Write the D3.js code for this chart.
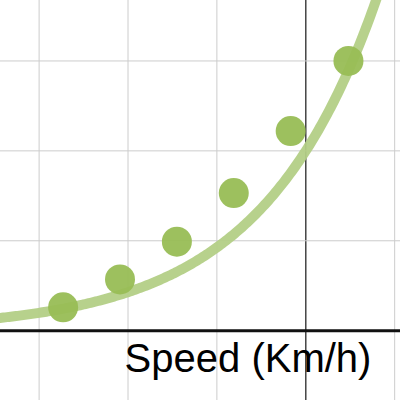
<!DOCTYPE html>
<html><head><meta charset="utf-8">
<script src="https://cdn.jsdelivr.net/npm/d3@7"></script>
<style>body{margin:0;background:#fff}</style></head>
<body><svg id="c" width="400" height="400"></svg>
<script>
// observed points
var speedX = [-2.73, -2.09, -1.45, -0.81, -0.17, 0.48];
var valueY = [0.26, 0.57, 0.99, 1.53, 2.22, 3.0];
// fitted curve y = a * exp(b x)
var fitA = 2.0, fitB = 0.77;
var gridX = [-3, -2, -1, 0, 1];
var gridY = [1, 2, 3];

var svg = d3.select('#c');
var x = d3.scaleLinear().domain([-3.44, 1.06]).range([0, 400]);
var y = d3.scaleLinear().domain([-0.771, 3.678]).range([400, 0]);

svg.selectAll('.gx').data(gridX).enter().append('line')
    .attr('x1', d => x(d)).attr('x2', d => x(d)).attr('y1', 0).attr('y2', 400)
    .attr('stroke', d => d === 0 ? '#444' : '#ccc').attr('stroke-width', d => d === 0 ? 1.5 : 1);
svg.selectAll('.gy').data(gridY).enter().append('line')
    .attr('x1', 0).attr('x2', 400).attr('y1', d => y(d)).attr('y2', d => y(d))
    .attr('stroke', '#ccc');
svg.append('line').attr('x1', 0).attr('x2', 400).attr('y1', y(0)).attr('y2', y(0))
    .attr('stroke', '#111').attr('stroke-width', 3);

var xs = d3.range(-3.5, 1.2, 0.02);
svg.append('path').datum(xs)
    .attr('d', d3.line().x(d => x(d)).y(d => y(fitA * Math.exp(fitB * d))))
    .attr('fill', 'none').attr('stroke', '#b3cf86').attr('stroke-width', 10).attr('opacity', 0.95);

svg.selectAll('.pt').data(speedX).enter().append('circle')
    .attr('cx', d => x(d)).attr('cy', (d, i) => y(valueY[i])).attr('r', 15)
    .attr('fill', '#98bd55').attr('opacity', 0.95);

svg.append('text').attr('x', 248).attr('y', 372).attr('text-anchor', 'middle')
    .attr('font-family', 'Liberation Sans, Arial').attr('font-size', 40)
    .text('Speed (Km/h)');
</script></body></html>
